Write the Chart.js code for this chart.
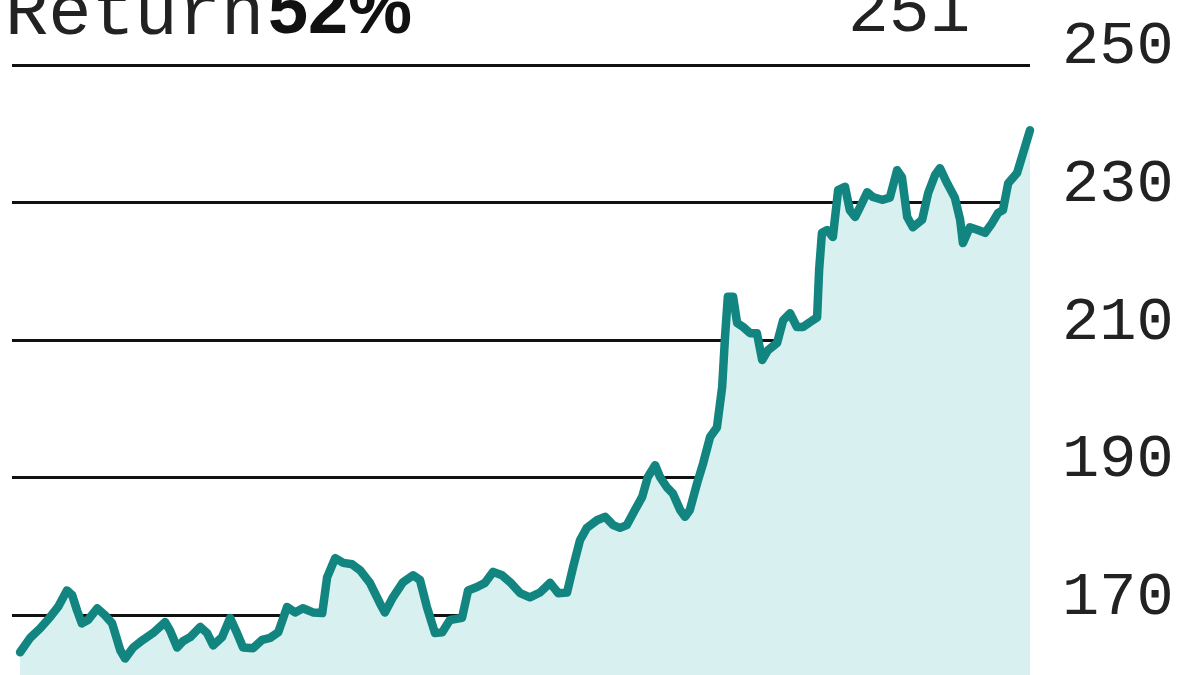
<!DOCTYPE html>
<html>
<head>
<meta charset="utf-8">
<script src="https://cdn.jsdelivr.net/npm/chart.js@4.4.1/dist/chart.umd.min.js"></script>
<style>
  html, body { margin: 0; padding: 0; background: #ffffff; }
  #wrap { position: relative; width: 1200px; height: 675px; overflow: hidden; background: #fff; }
  #c { position: absolute; left: 0; top: 0; }
  .t { position: absolute; white-space: nowrap; line-height: 1; }
  #ret { left: 5px; top: -21px; font-family: "Liberation Mono", monospace; font-size: 72px; color: #222; }
  #pct { left: 268px; top: -28px; font-family: "Liberation Sans", Arial, sans-serif; font-weight: bold; font-size: 72px; color: #111; }
  #cnt { left: 848px; top: -21px; font-family: "Liberation Mono", monospace; font-size: 68px; color: #222; }
</style>
</head>
<body>
<div id="wrap">
  <canvas id="c" width="1200" height="675"></canvas>
  <div class="t" id="ret">Return</div>
  <div class="t" id="pct">52%</div>
  <div class="t" id="cnt">251</div>
</div>
<script>
// Trading day index (x) and price (y)
const days = [0, 2.5, 5, 7.4, 9.4, 11.6, 12.9, 14.1, 15.3, 16.8, 19.1, 21.0, 22.8, 24.8, 26.0, 28.0, 30.4, 32.9, 35.9, 37.1, 38.9, 40.3, 42.1, 44.6, 46.3, 47.8, 50.0, 52.0, 53.7, 55.2, 57.7, 59.9, 61.9, 63.9, 66.1, 68.1, 70.0, 72.5, 74.8, 76.0, 78.0, 80.0, 82.2, 84.2, 86.6, 89.1, 90.3, 92.3, 94.8, 97.3, 99.0, 100.7, 102.7, 104.5, 106.4, 109.4, 110.9, 113.1, 115.1, 117.1, 119.3, 121.3, 123.8, 126.2, 128.7, 131.2, 133.2, 135.4, 136.9, 138.6, 140.3, 142.8, 144.8, 146.8, 148.5, 150.2, 152.2, 154.0, 155.4, 157.2, 158.4, 160.1, 161.6, 163.4, 164.6, 165.8, 167.6, 169.1, 170.8, 172.5, 173.8, 174.5, 175.2, 176.5, 177.5, 179.0, 180.7, 182.4, 183.7, 185.1, 187.4, 188.9, 190.6, 192.3, 193.8, 195.5, 197.3, 197.8, 198.5, 199.8, 201.2, 202.5, 204.2, 205.4, 206.7, 207.9, 209.7, 211.1, 213.4, 215.3, 217.1, 218.3, 219.6, 221.0, 223.3, 224.8, 226.5, 227.7, 229.5, 231.4, 232.7, 233.4, 235.1, 237.1, 238.9, 240.6, 242.1, 243.3, 244.6, 246.8, 248.3, 250];
const prices = [164.6, 166.7, 168.1, 169.7, 171.2, 173.6, 172.9, 170.7, 168.8, 169.3, 171.0, 170.0, 168.8, 164.9, 163.7, 165.3, 166.4, 167.4, 169.0, 167.8, 165.3, 166.2, 166.8, 168.3, 167.4, 165.6, 166.8, 169.6, 167.4, 165.3, 165.2, 166.4, 166.7, 167.5, 171.2, 170.4, 171.0, 170.4, 170.3, 175.5, 178.3, 177.6, 177.4, 176.5, 174.7, 171.7, 170.4, 172.6, 174.8, 175.8, 175.1, 171.2, 167.4, 167.5, 169.3, 169.6, 173.6, 174.1, 174.7, 176.3, 175.8, 174.8, 173.2, 172.6, 173.3, 174.7, 173.2, 173.3, 177.0, 180.9, 182.7, 183.8, 184.3, 183.1, 182.7, 183.1, 185.3, 187.2, 190.1, 191.8, 190.1, 188.6, 187.7, 185.3, 184.3, 185.3, 189.2, 192.1, 195.9, 197.3, 203.2, 210.4, 216.3, 216.3, 212.5, 211.9, 211.0, 211.0, 207.1, 208.5, 209.6, 212.9, 213.9, 211.9, 211.9, 212.6, 213.3, 220.2, 225.6, 226.0, 225.0, 231.8, 232.3, 228.9, 227.9, 229.3, 231.5, 230.8, 230.4, 230.7, 234.7, 233.7, 227.9, 226.4, 227.5, 231.4, 234.0, 235.0, 232.8, 230.7, 227.5, 224.1, 226.4, 226.0, 225.6, 227.0, 228.5, 228.9, 232.8, 234.3, 237.2, 240.5];
const yTicks = [170, 190, 210, 230, 250];
const yMin = 161.3, yMax = 250;
const xMin = -2, xMax = 250;

function build() {
  const pts = days.map((d, i) => ({ x: d, y: prices[i] }));
  new Chart(document.getElementById('c'), {
    type: 'line',
    data: {
      datasets: [{
        data: pts,
        borderColor: '#138580',
        backgroundColor: '#d9f0f0',
        borderWidth: 8.5,
        fill: 'start',
        tension: 0,
        pointRadius: 0,
        borderJoinStyle: 'round',
        borderCapStyle: 'round',
        clip: false
      }]
    },
    options: {
      responsive: false,
      animation: false,
      devicePixelRatio: 1,
      layout: { padding: { top: 65, bottom: 0, left: 12, right: 0 } },
      plugins: { legend: { display: false }, tooltip: { enabled: false }, title: { display: false } },
      scales: {
        x: { type: 'linear', min: xMin, max: xMax, display: false },
        y: {
          position: 'right',
          min: yMin, max: yMax,
          afterBuildTicks: s => { s.ticks = yTicks.map(v => ({ value: v })); },
          afterFit: s => { s.width = 170; s.paddingTop = 0; s.paddingBottom = 0; },
          border: { display: false },
          grid: { color: '#111111', lineWidth: 3, drawTicks: false },
          ticks: {
            padding: 32,
            labelOffset: -18,
            color: '#222',
            font: { family: 'Liberation Mono', size: 62 },
            callback: v => String(v)
          }
        }
      }
    }
  });
}
const fl = document.fonts ? Promise.all([
  document.fonts.load('62px "Liberation Mono"'),
  document.fonts.load('bold 72px "Liberation Sans"')
]) : Promise.resolve();
fl.then(build, build);
</script>
</body>
</html>
